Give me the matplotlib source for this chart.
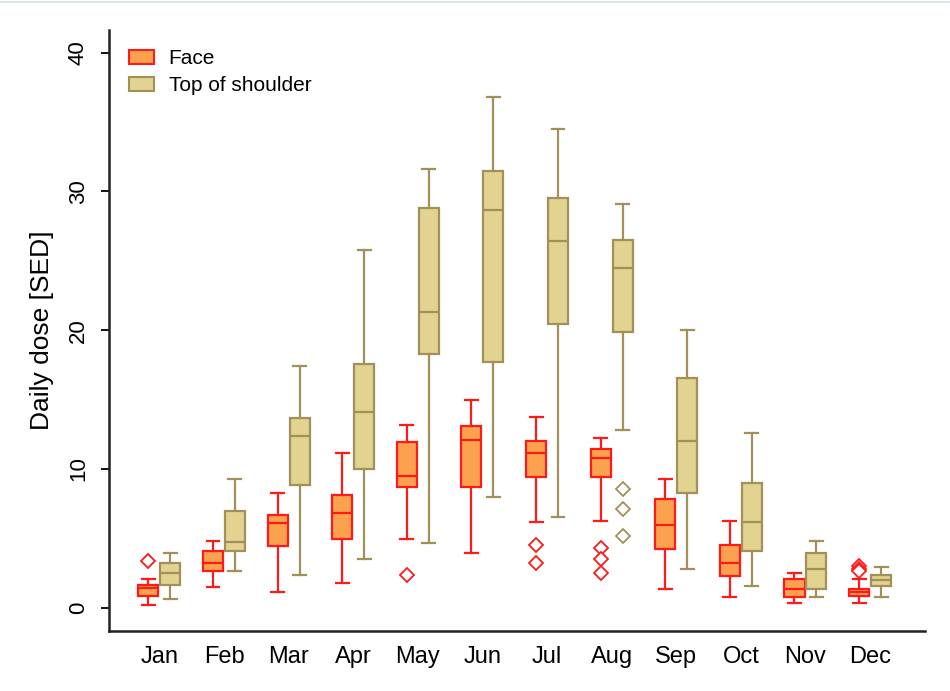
import numpy as np
import matplotlib.pyplot as plt
from matplotlib.lines import Line2D

plt.rcParams['font.family'] = ['Liberation Sans', 'DejaVu Sans']

months = ['Jan', 'Feb', 'Mar', 'Apr', 'May', 'Jun', 'Jul', 'Aug', 'Sep', 'Oct', 'Nov', 'Dec']

# Face: whisker low, q1, median, q3, whisker high, outliers
face_wlo = [0.19, 1.47, 1.16, 1.76, 4.97, 3.93, 6.15, 6.27, 1.35, 0.75, 0.31, 0.31]
face_q1 = [0.87, 2.65, 4.48, 4.94, 8.70, 8.70, 9.42, 9.42, 4.22, 2.31, 0.75, 0.87]
face_med = [1.45, 3.25, 6.10, 6.82, 9.47, 12.08, 11.16, 10.80, 5.98, 3.20, 1.35, 1.10]
face_q3 = [1.64, 4.10, 6.70, 8.15, 11.93, 13.07, 12.05, 11.47, 7.83, 4.50, 2.05, 1.35]
face_whi = [2.07, 4.82, 8.27, 11.16, 13.20, 14.95, 13.76, 12.20, 9.28, 6.27, 2.48, 2.07]
face_fliers = [[3.38], [], [], [], [2.36], [], [4.53, 3.20], [4.29, 3.52, 2.48],
               [], [], [], [3.0, 2.8, 2.65]]

# Top of shoulder
sh_wlo = [0.60, 2.65, 2.36, 3.52, 4.65, 7.98, 6.53, 12.78, 2.80, 1.59, 0.75, 0.75]
sh_q1 = [1.64, 4.10, 8.87, 10.00, 18.27, 17.70, 20.44, 19.84, 8.27, 4.10, 1.35, 1.59]
sh_med = [2.48, 4.72, 12.36, 14.10, 21.33, 28.70, 26.41, 24.50, 12.05, 6.15, 2.80, 2.00]
sh_q3 = [3.20, 7.00, 13.67, 17.55, 28.83, 31.45, 29.55, 26.50, 16.54, 8.99, 3.93, 2.36]
sh_whi = [3.93, 9.28, 17.40, 25.80, 31.60, 36.80, 34.50, 29.10, 20.00, 12.60, 4.82, 2.92]
sh_fliers = [[], [], [], [], [], [], [], [8.56, 7.11, 5.20], [], [], [], []]

face_fill, face_edge = '#FCA24E', '#FF1A1A'
sh_fill, sh_edge = '#E3D391', '#A38F58'


def make_stats(wlo, q1, med, q3, whi, fliers):
    return [dict(whislo=a, q1=b, med=c, q3=d, whishi=e, fliers=f)
            for a, b, c, d, e, f in zip(wlo, q1, med, q3, whi, fliers)]


def draw(ax, stats, pos, fill, edge):
    lw = 1.6
    ax.bxp(stats, positions=pos, widths=0.31, capwidths=0.2, patch_artist=True,
           boxprops=dict(facecolor=fill, edgecolor=edge, linewidth=lw),
           medianprops=dict(color=edge, linewidth=lw),
           whiskerprops=dict(color=edge, linewidth=lw),
           capprops=dict(color=edge, linewidth=lw),
           flierprops=dict(marker='D', markersize=7.5, markerfacecolor='white',
                           markeredgecolor=edge, markeredgewidth=1.3, linestyle='none'),
           manage_ticks=False)


fig = plt.figure(figsize=(9.5, 6.91), dpi=100)
ax = fig.add_axes([0.1147, 0.0868, 0.859, 0.8698])

x = np.arange(1, len(months) + 1)
draw(ax, make_stats(face_wlo, face_q1, face_med, face_q3, face_whi, face_fliers),
     x - 0.17, face_fill, face_edge)
draw(ax, make_stats(sh_wlo, sh_q1, sh_med, sh_q3, sh_whi, sh_fliers),
     x + 0.17, sh_fill, sh_edge)

ax.set_xlim(0.22, 12.85)
ax.set_ylim(-1.68, 41.64)
ax.set_xticks(x)
ax.set_xticklabels(months, fontsize=17)
ax.tick_params(axis='x', length=0, pad=11)
ax.set_yticks([0, 10, 20, 30, 40])
ax.tick_params(axis='y', length=5.5, width=1.3, labelsize=16, labelrotation=90, pad=9)
for lab in ax.get_yticklabels():
    lab.set_va('center')
ax.set_ylabel('Daily dose [SED]', fontsize=19, labelpad=10)

for s in ['top', 'right']:
    ax.spines[s].set_visible(False)
for s in ['left', 'bottom']:
    ax.spines[s].set_linewidth(1.8)
    ax.spines[s].set_color('#222222')

handles = [plt.Rectangle((0, 0), 1, 1, facecolor=face_fill, edgecolor=face_edge, linewidth=1.5),
           plt.Rectangle((0, 0), 1, 1, facecolor=sh_fill, edgecolor=sh_edge, linewidth=1.5)]
ax.legend(handles, ['Face', 'Top of shoulder'], loc='upper left', frameon=False,
          fontsize=15, handlelength=1.2, handleheight=0.63, handletextpad=0.72,
          labelspacing=0.4, borderaxespad=0, bbox_to_anchor=(0.014, 0.982))

# faint frame line along the top edge of the image
fig.add_artist(Line2D([0, 1], [0.997, 0.997], transform=fig.transFigure,
                      color='#DDE6E6', linewidth=1.5))

fig.savefig('out.png', dpi=100)
